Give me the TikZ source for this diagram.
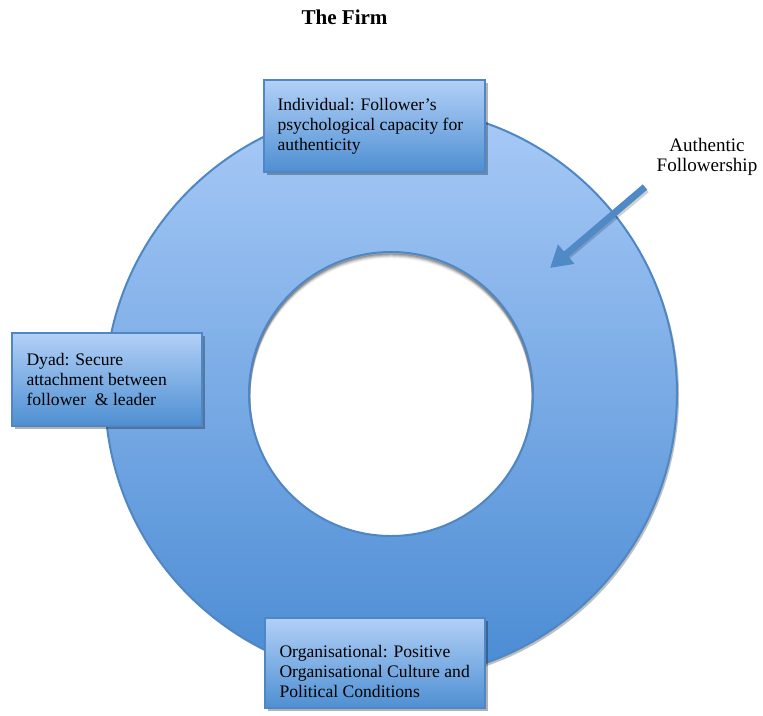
\documentclass[tikz,border=0pt]{standalone}
\usepackage{fontspec}
\setmainfont{Liberation Serif}
\usetikzlibrary{calc,shadows,arrows.meta}

\definecolor{ringtop}{RGB}{168,202,247}
\definecolor{ringbot}{RGB}{74,139,211}
\definecolor{boxtop}{RGB}{178,208,247}
\definecolor{boxbot}{RGB}{78,143,210}
\definecolor{rim}{RGB}{78,135,195}
\definecolor{arrowblue}{RGB}{79,138,199}

\begin{document}
\begin{tikzpicture}[x=0.75pt,y=-0.75pt,
    levelbox/.style={rectangle, draw=rim, line width=1.1pt,
      top color=boxtop, bottom color=boxbot, inner sep=0pt,
      drop shadow={shadow xshift=2pt, shadow yshift=-2.5pt, opacity=0.3, fill=black}},
    leveltext/.style={inner sep=0pt, align=left, anchor=west,
      font=\fontsize{13.2pt}{15pt}\selectfont},
    pointer/.style={draw=arrowblue, line width=5.2pt,
      -{Triangle[length=16pt,width=18pt]}},
  ]
\useasboundingbox (0,0) rectangle (763,715);

% ring: shaded outer disc with a white hole
\coordinate (c) at (391,393);
\coordinate (ci) at (391,394);
\path[drop shadow={shadow xshift=1.5pt, shadow yshift=-2pt, opacity=0.25, fill=black}]
  (c) circle (286);
\shade[top color=ringtop, bottom color=ringbot] (c) circle (286);
\draw[rim, line width=1.5pt] (c) circle (286);
\fill[white] (ci) circle (142);
% soft inner shadow along the top of the hole
\begin{scope}
  \clip (ci) circle (142);
  \foreach \k/\o in {1/0.22,2/0.16,3/0.11,4/0.07,5/0.04}
    \draw[black, opacity=\o, line width=2.2pt] ($(ci)+(0,\k)$) circle (142);
\end{scope}
\draw[rim, line width=1.5pt] (ci) circle (142);

% title
\node[font=\fontsize{15.8pt}{18pt}\selectfont\bfseries] (title) at (344.5,17) {The Firm};

% level boxes
\node[levelbox, minimum width=221*0.75pt, minimum height=92*0.75pt] (ind) at (374.5,126) {};
\node[leveltext] (indtxt) at ($(ind.west)+(14,0)$)
  {Individual: Follower’s\\psychological capacity for\\authenticity};

\node[levelbox, minimum width=190*0.75pt, minimum height=93*0.75pt] (dyad) at (107,379.5) {};
\node[leveltext] (dyadtxt) at ($(dyad.west)+(15,0)$)
  {Dyad: Secure\\attachment between\\follower~ \& leader};

\node[levelbox, minimum width=220*0.75pt, minimum height=90*0.75pt] (org) at (375,663) {};
\node[leveltext] (orgtxt) at ($(org.west)+(15,8)$)
  {Organisational: Positive\\Organisational Culture and\\Political Conditions};

% label and pointer
\node[align=center, inner sep=0pt, font=\fontsize{14.3pt}{15pt}\selectfont] (af) at (707,157)
  {Authentic\\Followership};
\coordinate (tail) at (645,187);
\coordinate (tip) at (550,268);
\draw[black, opacity=0.18, line width=5.2pt] ($(tail)+(1.5,2.5)$) -- ($(tip)+(15,-10)$);
\draw[pointer] (tail) -- (tip);
\end{tikzpicture}
\end{document}
